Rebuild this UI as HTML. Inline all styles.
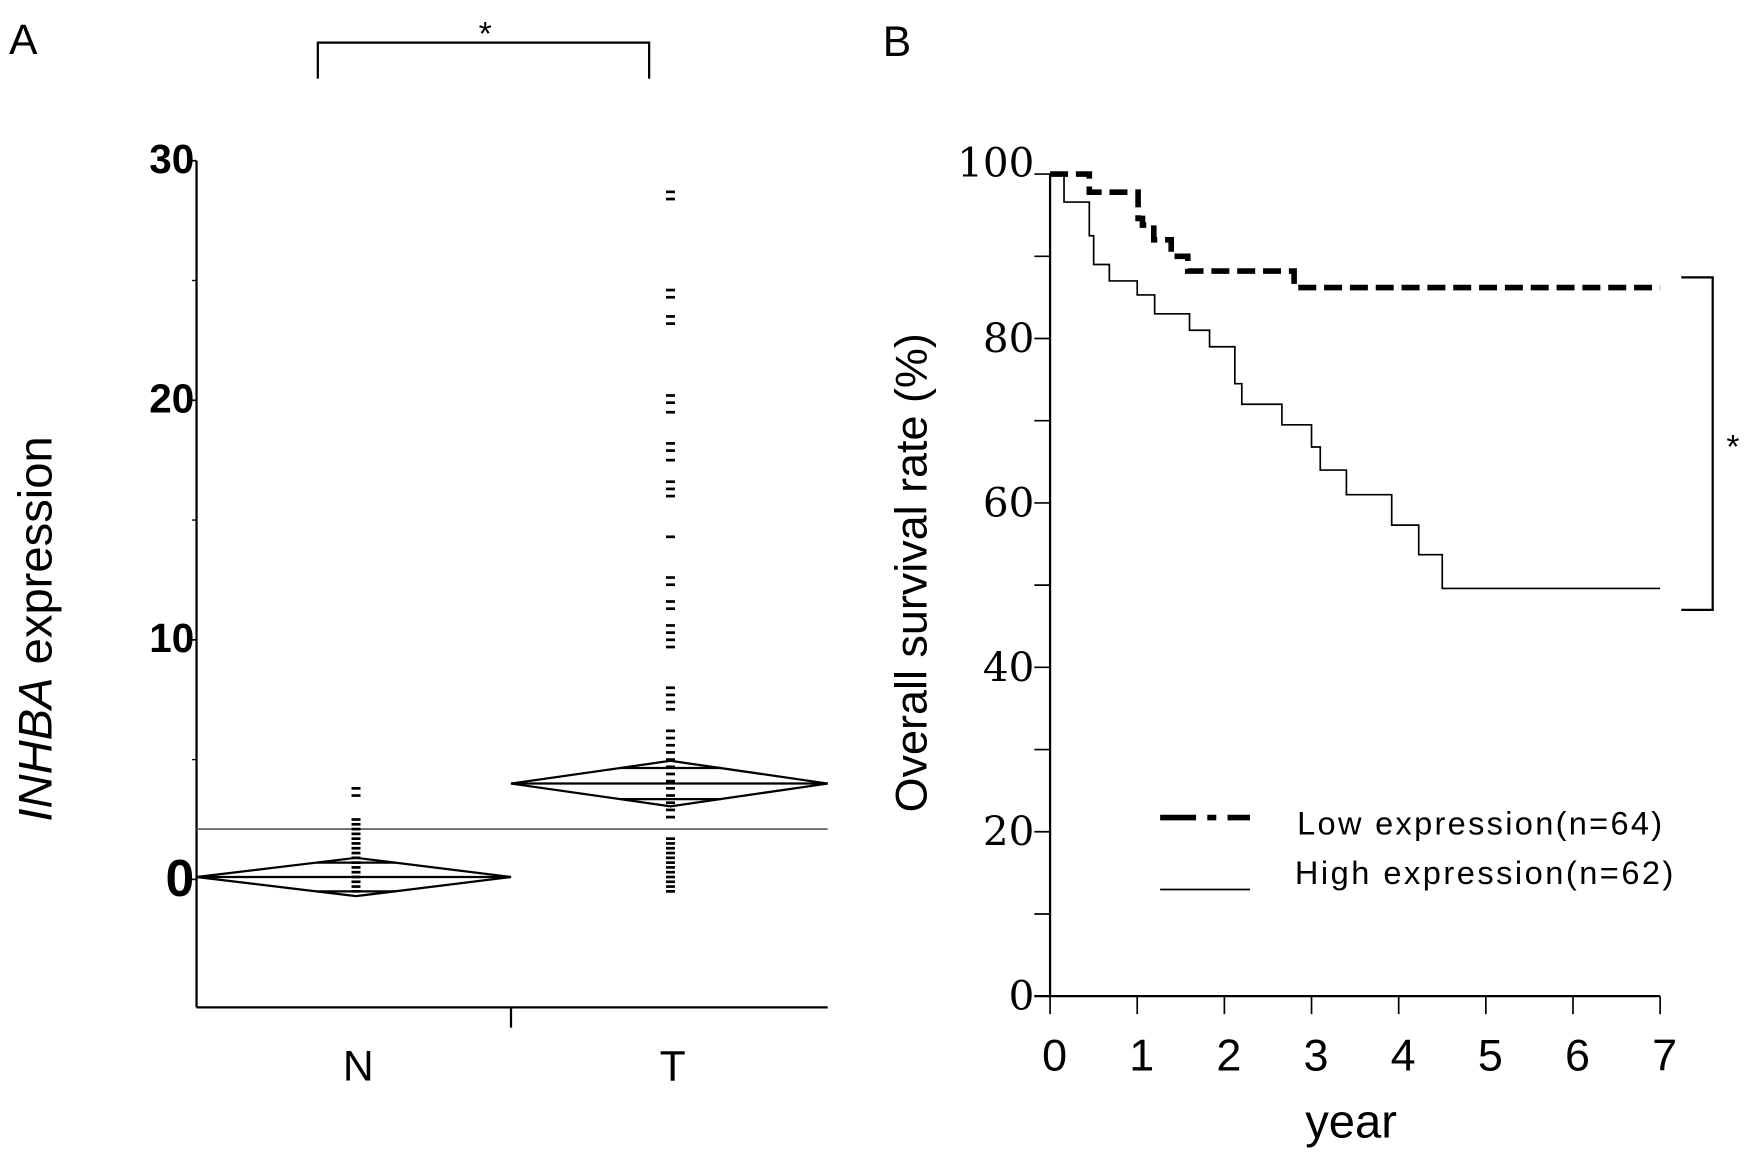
<!DOCTYPE html>
<html><head><meta charset="utf-8">
<style>
html,body{margin:0;padding:0;background:#fff;}
svg{display:block;}
text{font-family:"Liberation Sans",sans-serif;fill:#000;}
</style></head>
<body>
<svg id="fig" width="1752" height="1156" viewBox="0 0 1560 1029.3" preserveAspectRatio="none" xmlns="http://www.w3.org/2000/svg">
<g id="panelA"></g>
<g id="panelB"></g>
</svg>
<script>
// ---- Panel A data ----
const groupsA = ["N", "T"];
const meansA = [0.1, 4.0];
const ciA = [0.8, 0.95];
const overlapA = [0.6, 0.65];
const grandMeanA = 2.1;
const yTicksA = [30, 20, 10, 0];
const yMinorA = [25, 15, 5];
const pointsN = [3.8,3.5,2.5,2.3,2.1,1.9,1.7,1.5,1.3,1.1,0.9,0.7,0.5,0.3,0.1,-0.1,-0.3,-0.5];
const pointsT = [28.7,28.4,24.6,24.3,23.5,23.2,20.2,19.9,19.5,18.2,17.9,17.5,16.6,16.3,16.0,14.3,12.6,12.3,11.6,11.3,10.6,10.3,10.0,9.7,8.0,7.7,7.4,7.1,6.2,5.9,5.6,5.3,5.0,4.7,4.4,4.1,3.8,3.5,3.2,2.9,2.6,1.7,1.5,1.3,1.1,0.9,0.7,0.5,0.3,0.1,-0.1,-0.3,-0.5];
// ---- Panel B data ----
const yearTicks = [0,1,2,3,4,5,6,7];
const survTicks = [100,80,60,40,20,0];
const lowTimes = [0,0.45,1.01,1.06,1.19,1.39,1.58,2.8,7];
const lowSurv  = [100,97.8,94.6,93.8,92,90,88.2,86.2,86.2];
const highTimes = [0,0.16,0.45,0.5,0.68,1.0,1.2,1.6,1.83,2.12,2.2,2.66,3.0,3.1,3.4,3.92,4.23,4.5,7];
const highSurv  = [100,96.6,92.5,89,87,85.3,83,81,79,74.5,72,69.5,66.8,64,61,57.3,53.7,49.6,49.6];

const NS="http://www.w3.org/2000/svg";
function mk(parent,tag,attrs,txt){const e=document.createElementNS(NS,tag);for(const k in attrs)e.setAttribute(k,attrs[k]);if(txt!==undefined)e.textContent=txt;parent.appendChild(e);return e;}

// Panel A
const A=document.getElementById('panelA');
const axL=175, axR=737, axB=897;
const yA=v=>783-v*21.33;
const xA=i=>[175,455][i]; const xA2=i=>[455,737][i]; const cA=i=>[317,597][i];
let e;
e=mk(A,'text',{x:8,y:48,'font-size':38},'A');
e=mk(A,'path',{d:'M283 70 V38 H578 V70',fill:'none',stroke:'#000','stroke-width':2});
e=mk(A,'text',{x:432,y:40,'font-size':30,'text-anchor':'middle'},'*');
e=mk(A,'line',{x1:axL,y1:yA(30),x2:axL,y2:axB,stroke:'#000','stroke-width':2});
e=mk(A,'line',{x1:axL,y1:axB,x2:axR,y2:axB,stroke:'#000','stroke-width':2});
e=mk(A,'line',{x1:455,y1:axB,x2:455,y2:915,stroke:'#000','stroke-width':2});
yTicksA.forEach(v=>{
  e=mk(A,'line',{x1:axL-6,y1:yA(v),x2:axL,y2:yA(v),stroke:'#000','stroke-width':1.5});
  e=mk(A,'text',{x:axL-2,y:yA(v)+(v===0?15:11),'font-size':v===0?46:36,'font-weight':'bold','text-anchor':'end'},String(v));
});
yMinorA.forEach(v=>{e=mk(A,'line',{x1:axL-4,y1:yA(v),x2:axL,y2:yA(v),stroke:'#000','stroke-width':1.2});});
e=mk(A,'text',{x:0,y:0,'font-size':42,'text-anchor':'middle',transform:'translate(46 560) rotate(-90)'});
mk(e,'tspan',{'font-style':'italic'},'INHBA');mk(e,'tspan',{},' expression');
groupsA.forEach((g,i)=>{
  e=mk(A,'text',{x:cA(i)+2,y:962,'font-size':38,'text-anchor':'middle'},g);
});
e=mk(A,'line',{x1:axL,y1:yA(grandMeanA),x2:axR,y2:yA(grandMeanA),stroke:'#555','stroke-width':1.5});
[pointsN,pointsT].forEach((pts,i)=>{pts.forEach(v=>{e=mk(A,'rect',{x:cA(i)-4,y:yA(v)-1.2,width:8,height:2.4,fill:'#000'});});});
groupsA.forEach((g,i)=>{
  const l=xA(i),r=xA2(i),c=cA(i),m=yA(meansA[i]),t=yA(meansA[i]+ciA[i]),b=yA(meansA[i]-ciA[i]);
  e=mk(A,'path',{d:`M${l} ${m} L${c} ${t} L${r} ${m} L${c} ${b} Z`,fill:'none',stroke:'#000','stroke-width':2});
  e=mk(A,'line',{x1:l,y1:m,x2:r,y2:m,stroke:'#000','stroke-width':2});
  const f=1-overlapA[i]/ciA[i];
  [1,-1].forEach(s=>{const yy=yA(meansA[i]+s*overlapA[i]);const hw=(c-l)*f;
    e=mk(A,'line',{x1:c-hw,y1:yy,x2:c+hw,y2:yy,stroke:'#000','stroke-width':2});});
});

// Panel B
const B=document.getElementById('panelB');
const xB=t=>935+t*77.6, yB=s=>887-s*7.32;
e=mk(B,'text',{x:786,y:50,'font-size':38},'B');
e=mk(B,'line',{x1:xB(0),y1:yB(100),x2:xB(0),y2:yB(0),stroke:'#000','stroke-width':2});
e=mk(B,'line',{x1:xB(0)-14,y1:yB(0),x2:xB(7),y2:yB(0),stroke:'#000','stroke-width':2});
for(let s=0;s<=100;s+=10){e=mk(B,'line',{x1:xB(0)-14,y1:yB(s),x2:xB(0),y2:yB(s),stroke:'#000','stroke-width':1.5});}
survTicks.forEach(s=>{e=mk(B,'text',{x:xB(0)-14,y:yB(s)+(s===100?2:12),'font-size':36,'text-anchor':'end',style:'font-family:"DejaVu Serif",serif'},String(s));});
yearTicks.forEach(t=>{
  e=mk(B,'line',{x1:xB(t),y1:yB(0),x2:xB(t),y2:yB(0)+16,stroke:'#000','stroke-width':1.5});
  e=mk(B,'text',{x:xB(t)+4,y:953,'font-size':40,'text-anchor':'middle'},String(t));
});
e=mk(B,'text',{x:1203,y:1013,'font-size':42,'text-anchor':'middle'},'year');
e=mk(B,'text',{x:0,y:0,'font-size':40,'text-anchor':'middle',transform:'translate(825 510) rotate(-90)'},'Overall survival rate (%)');
function stepPath(ts,ss){let d=`M${xB(ts[0])} ${yB(ss[0])}`;for(let i=1;i<ts.length;i++){d+=` H${xB(ts[i])} V${yB(ss[i])}`;}return d;}
e=mk(B,'path',{d:stepPath(highTimes,highSurv),fill:'none',stroke:'#000','stroke-width':1.5});
e=mk(B,'path',{d:stepPath(lowTimes,lowSurv),fill:'none',stroke:'#000','stroke-width':5,'stroke-dasharray':'16 7'});
e=mk(B,'path',{d:'M1497 247 H1525 V543 H1497',fill:'none',stroke:'#000','stroke-width':2});
e=mk(B,'text',{x:1543,y:408,'font-size':30,'text-anchor':'middle'},'*');
e=mk(B,'line',{x1:1033,y1:728,x2:1113,y2:728,stroke:'#000','stroke-width':5,'stroke-dasharray':'32 10 8 10'});
e=mk(B,'line',{x1:1033,y1:792,x2:1113,y2:792,stroke:'#000','stroke-width':1.5});
e=mk(B,'text',{x:1155,y:743,'font-size':29,textLength:325},'Low expression(n=64)');
e=mk(B,'text',{x:1153,y:787,'font-size':29,textLength:337},'High expression(n=62)');
</script>
</body></html>
